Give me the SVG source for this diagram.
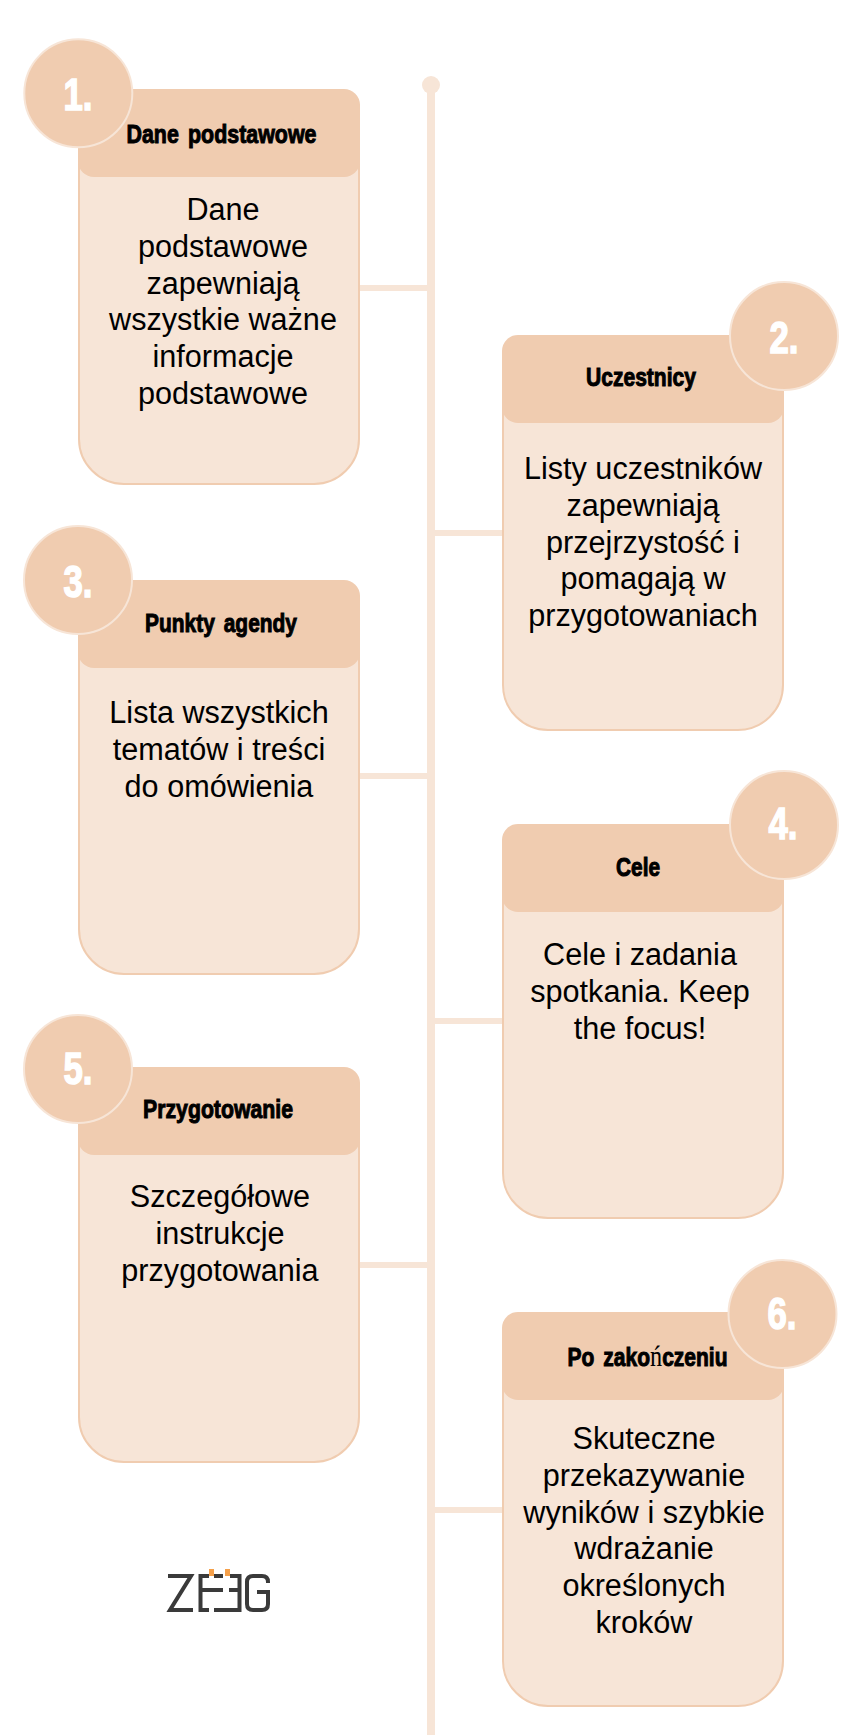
<svg xmlns="http://www.w3.org/2000/svg" width="860" height="1735" viewBox="0 0 860 1735">
<style>
.body{fill:#f7e5d7;stroke:#f0ccb0;stroke-width:2}
.head{fill:#f0ccb0}
.circ{fill:#f0ccb0;stroke:#f7e5d7;stroke-width:2}
.t{font-family:"Liberation Sans",Arial,sans-serif;font-size:30.6px;fill:#000;text-anchor:middle}
.h{font-family:"Liberation Sans",Arial,sans-serif;font-weight:700;font-size:26px;word-spacing:.15em;fill:#000;stroke:#000;stroke-width:1;text-anchor:middle}
.s{font-family:"Liberation Serif",serif;font-weight:400;font-size:30px;stroke:none}
.n{font-family:"Liberation Sans",Arial,sans-serif;font-weight:700;font-size:44px;fill:#fff;stroke:#fff;stroke-width:1.5;text-anchor:middle}
.c{stroke:#f7e5d7;fill:none}
</style>
<g id="connectors">
<circle cx="431" cy="85" r="9" fill="#f7e5d7"/>
<path class="c" stroke-width="8" d="M431 90V1735"/>
<path class="c" stroke-width="6" d="M360 288H428M502 533H434M360 776H428M502 1021H434M360 1265H428M502 1510H434"/>
</g>
<g id="node1">
<rect class="body" x="79" y="90" width="280" height="394" rx="45"/>
<rect class="head" x="78" y="89" width="282" height="88" rx="16"/>
<circle class="circ" cx="78.3" cy="93.3" r="54"/>
<text class="n" x="78" y="110" textLength="29" lengthAdjust="spacingAndGlyphs">1.</text>
<text class="h" x="221.5" y="143" textLength="190" lengthAdjust="spacingAndGlyphs">Dane podstawowe</text>
<text class="t" x="223" y="220">Dane</text><text class="t" x="223" y="256.800">podstawowe</text><text class="t" x="223" y="293.600">zapewniają</text><text class="t" x="223" y="330.400">wszystkie ważne</text><text class="t" x="223" y="367.200">informacje</text><text class="t" x="223" y="404">podstawowe</text>
</g>
<g id="node2">
<rect class="body" x="503" y="336" width="280" height="394" rx="45"/>
<rect class="head" x="502" y="335" width="282" height="88" rx="16"/>
<circle class="circ" cx="784" cy="336" r="54"/>
<text class="n" x="784" y="353" textLength="29" lengthAdjust="spacingAndGlyphs">2.</text>
<text class="h" x="641" y="386" textLength="110" lengthAdjust="spacingAndGlyphs">Uczestnicy</text>
<text class="t" x="643" y="479">Listy uczestników</text><text class="t" x="643" y="515.800">zapewniają</text><text class="t" x="643" y="552.600">przejrzystość i</text><text class="t" x="643" y="589.400">pomagają w</text><text class="t" x="643" y="626.200">przygotowaniach</text>
</g>
<g id="node3">
<rect class="body" x="79" y="581" width="280" height="393" rx="45"/>
<rect class="head" x="78" y="580" width="282" height="88" rx="16"/>
<circle class="circ" cx="78" cy="580" r="54"/>
<text class="n" x="78" y="597" textLength="29" lengthAdjust="spacingAndGlyphs">3.</text>
<text class="h" x="221" y="632" textLength="152" lengthAdjust="spacingAndGlyphs">Punkty agendy</text>
<text class="t" x="219" y="723">Lista wszystkich</text><text class="t" x="219" y="759.800">tematów i treści</text><text class="t" x="219" y="796.600">do omówienia</text>
</g>
<g id="node4">
<rect class="body" x="503" y="825" width="280" height="393" rx="45"/>
<rect class="head" x="502" y="824" width="282" height="88" rx="16"/>
<circle class="circ" cx="784" cy="825" r="54"/>
<text class="n" x="783" y="839" textLength="29" lengthAdjust="spacingAndGlyphs">4.</text>
<text class="h" x="638" y="876" textLength="44" lengthAdjust="spacingAndGlyphs">Cele</text>
<text class="t" x="640" y="965">Cele i zadania</text><text class="t" x="640" y="1001.800">spotkania. Keep</text><text class="t" x="640" y="1038.600">the focus!</text>
</g>
<g id="node5">
<rect class="body" x="79" y="1068" width="280" height="394" rx="45"/>
<rect class="head" x="78" y="1067" width="282" height="88" rx="16"/>
<circle class="circ" cx="78" cy="1069" r="54"/>
<text class="n" x="78" y="1084" textLength="29" lengthAdjust="spacingAndGlyphs">5.</text>
<text class="h" x="218" y="1118" textLength="150" lengthAdjust="spacingAndGlyphs">Przygotowanie</text>
<text class="t" x="220" y="1207">Szczegółowe</text><text class="t" x="220" y="1243.800">instrukcje</text><text class="t" x="220" y="1280.600">przygotowania</text>
</g>
<g id="node6">
<rect class="body" x="503" y="1313" width="280" height="393" rx="45"/>
<rect class="head" x="502" y="1312" width="282" height="88" rx="16"/>
<circle class="circ" cx="782.5" cy="1314" r="54"/>
<text class="n" x="782" y="1329" textLength="29" lengthAdjust="spacingAndGlyphs">6.</text>
<text class="h" x="647.5" y="1366" textLength="160" lengthAdjust="spacingAndGlyphs">Po zako<tspan class="s">ń</tspan>czeniu</text>
<text class="t" x="644" y="1449">Skuteczne</text><text class="t" x="644" y="1485.800">przekazywanie</text><text class="t" x="644" y="1522.600">wyników i szybkie</text><text class="t" x="644" y="1559.400">wdrażanie</text><text class="t" x="644" y="1596.200">określonych</text><text class="t" x="644" y="1633">kroków</text>
</g>
<g id="logo" fill="none" stroke="#3a3a3a" stroke-width="4" transform="translate(1 0)">
<path d="M167 1576H190L169 1610H192"/>
<path d="M208 1576H199.500V1610H208M200 1590H222"/>
<path d="M213 1576H222"/>
<path d="M229 1576H238.500V1610H213M228 1590H238"/>
<path d="M267 1583V1582Q267 1576 261 1576H252Q246 1576 246 1582V1604Q246 1610 252 1610H261Q267 1610 267 1604V1592H256"/>
<path d="M210.500 1569V1576M226.500 1569V1576" stroke="#f5a04a" stroke-width="5"/>
</g>
</svg>
